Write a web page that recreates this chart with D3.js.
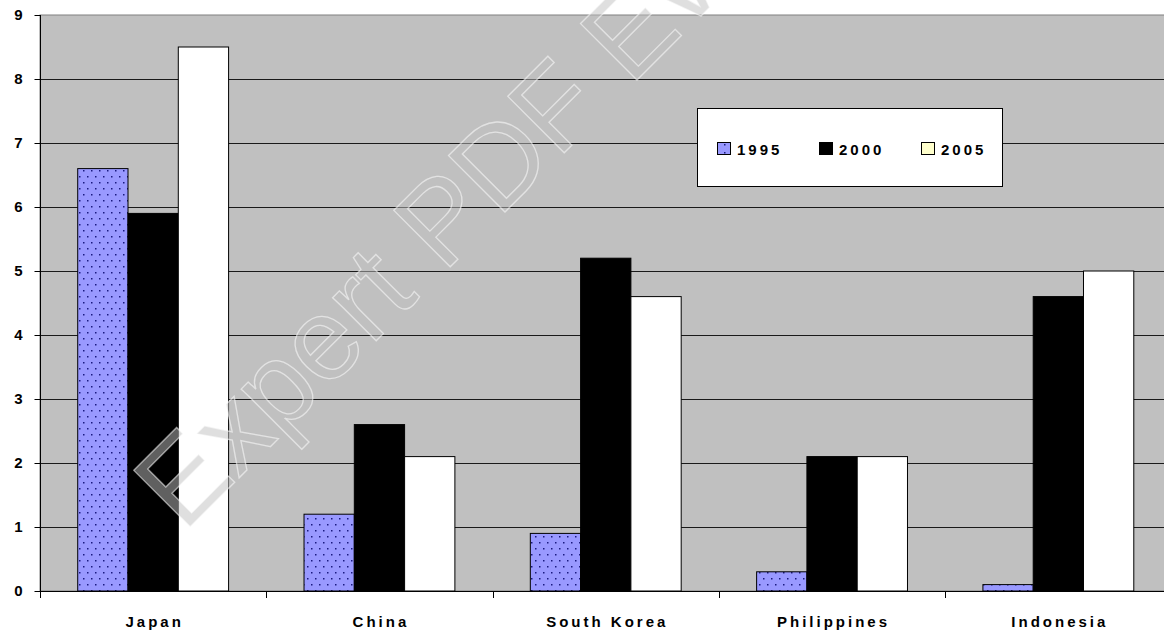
<!DOCTYPE html>
<html>
<head>
<meta charset="utf-8">
<script src="https://cdn.jsdelivr.net/npm/d3@7"></script>
<style>
  html, body { margin: 0; padding: 0; background: #ffffff; }
  svg { display: block; }
  text { font-family: "Liberation Sans", Arial, sans-serif; }
  .lbl { font-weight: 700; font-size: 15px; fill: #000; }
</style>
</head>
<body>
<svg id="chart" width="1164" height="632"></svg>
<script>
const categories = ["Japan", "China", "South Korea", "Philippines", "Indonesia"];
const seriesNames = ["1995", "2000", "2005"];
const values1995 = [6.6, 1.2, 0.9, 0.3, 0.1];
const values2000 = [5.9, 2.6, 5.2, 2.1, 4.6];
const values2005 = [8.5, 2.1, 4.6, 2.1, 5.0];
const yTicks = [0, 1, 2, 3, 4, 5, 6, 7, 8, 9];
const watermarkText = "Expert PDF Evaluation";

(function () {
const seriesValues = { "1995": values1995, "2000": values2000, "2005": values2005 };
const seriesFill = { "1995": "url(#dots)", "2000": "#000000", "2005": "#ffffff" };
const legendFill = { "1995": "url(#dotsLegend)", "2000": "#000000", "2005": "#ffffcc" };

const svg = d3.select("#chart");
const pLeft = 40, pRight = 1171.5, pTop = 15, pBottom = 591;

const defs = svg.append("defs");
const pat = defs.append("pattern").attr("id", "dots").attr("patternUnits", "userSpaceOnUse")
  .attr("width", 8).attr("height", 12).attr("x", 2).attr("y", 1);
pat.append("rect").attr("width", 8).attr("height", 12).attr("fill", "#9999ff");
pat.append("rect").attr("x", 1).attr("y", 1).attr("width", 1.5).attr("height", 1.5).attr("fill", "#1a1a80");
pat.append("rect").attr("x", 5).attr("y", 7).attr("width", 1.5).attr("height", 1.5).attr("fill", "#1a1a80");
const pat2 = defs.append("pattern").attr("id", "dotsLegend").attr("patternUnits", "userSpaceOnUse")
  .attr("width", 8).attr("height", 8).attr("x", 718).attr("y", 143);
pat2.append("rect").attr("width", 8).attr("height", 8).attr("fill", "#9999ff");
pat2.append("rect").attr("x", 6).attr("y", 1).attr("width", 1.5).attr("height", 1.5).attr("fill", "#1a1a80");

const x = d3.scaleBand().domain(categories).range([pLeft, pRight]).paddingInner(0).paddingOuter(0);
const xs = d3.scaleBand().domain(seriesNames).range([0, x.bandwidth()]).paddingInner(0).paddingOuter(0.75);
const y = d3.scaleLinear().domain([0, 9]).range([pBottom, pTop]);

// plot area
svg.append("rect").attr("x", pLeft).attr("y", pTop).attr("width", pRight - pLeft).attr("height", pBottom - pTop)
  .attr("fill", "#c0c0c0").attr("stroke", "#808080").attr("stroke-width", 1);

// gridlines
svg.append("g").selectAll("line").data(yTicks.filter(d => d > 0 && d < 9)).join("line")
  .attr("x1", pLeft).attr("x2", pRight)
  .attr("y1", d => Math.round(y(d)) + 0.5).attr("y2", d => Math.round(y(d)) + 0.5)
  .attr("stroke", "#1a1a1a").attr("stroke-width", 1);

// bars
const groups = svg.append("g").selectAll("g").data(seriesNames).join("g");
groups.selectAll("rect").data(s => categories.map((c, i) => ({ s, c, v: seriesValues[s][i] }))).join("rect")
  .attr("x", d => x(d.c) + xs(d.s))
  .attr("y", d => y(d.v))
  .attr("width", xs.bandwidth())
  .attr("height", d => y(0) - y(d.v))
  .attr("fill", d => seriesFill[d.s])
  .attr("stroke", "#000000").attr("stroke-width", 1);

// y axis
const yAxis = svg.append("g").attr("transform", `translate(${pLeft + 0.5},0)`)
  .call(d3.axisLeft(y).tickValues(yTicks).tickSize(6).tickPadding(12).tickFormat(d3.format("d")));
yAxis.attr("font-family", null).attr("font-size", null);
yAxis.select(".domain").attr("stroke", "#000").attr("d", `M0,${pTop}V${pBottom + 7}`);
yAxis.selectAll(".tick line").attr("stroke", "#000");
yAxis.selectAll(".tick text").attr("class", "lbl").attr("fill", "#000")
  .style("font-family", "'Liberation Sans', Arial, sans-serif").style("font-weight", "700").style("font-size", "15px");

// x axis
const xg = svg.append("g");
xg.append("line").attr("x1", pLeft).attr("x2", pRight).attr("y1", pBottom + 0.5).attr("y2", pBottom + 0.5).attr("stroke", "#000");
const boundaries = categories.map(c => x(c)).concat([x(categories[categories.length - 1]) + x.bandwidth()]);
xg.selectAll("line.tk").data(boundaries).join("line").attr("class", "tk")
  .attr("x1", d => Math.round(d) + 0.5).attr("x2", d => Math.round(d) + 0.5)
  .attr("y1", pBottom).attr("y2", pBottom + 7).attr("stroke", "#000");
xg.selectAll("text").data(categories).join("text")
  .attr("class", "lbl")
  .attr("x", c => x(c) + x.bandwidth() / 2 + 1.5)
  .attr("y", 627)
  .attr("text-anchor", "middle")
  .style("letter-spacing", "3px")
  .text(c => c);

// legend
const lg = svg.append("g");
lg.append("rect").attr("x", 697.5).attr("y", 108.5).attr("width", 305).attr("height", 78)
  .attr("fill", "#ffffff").attr("stroke", "#000").attr("stroke-width", 1);
const legendX = { "1995": 717, "2000": 819, "2005": 921 };
const items = lg.selectAll("g").data(seriesNames).join("g");
items.append("rect").attr("x", s => legendX[s] + 0.5).attr("y", 142.5).attr("width", 13).attr("height", 12)
  .attr("fill", s => legendFill[s]).attr("stroke", "#000").attr("stroke-width", 1);
items.append("text").attr("class", "lbl").attr("x", s => legendX[s] + 20).attr("y", 154.5)
  .style("letter-spacing", "3px")
  .text(s => s);

// watermark
svg.append("text")
  .attr("transform", "translate(183.6,533.4) rotate(-45)")
  .attr("font-size", 116)
  .attr("font-family", "Liberation Sans, Arial, sans-serif")
  .attr("fill", "rgba(192,192,192,0.5)")
  .attr("stroke", "rgba(255,255,255,0.55)")
  .attr("stroke-width", 1.3)
  .text(watermarkText);
})();
</script>
</body>
</html>
